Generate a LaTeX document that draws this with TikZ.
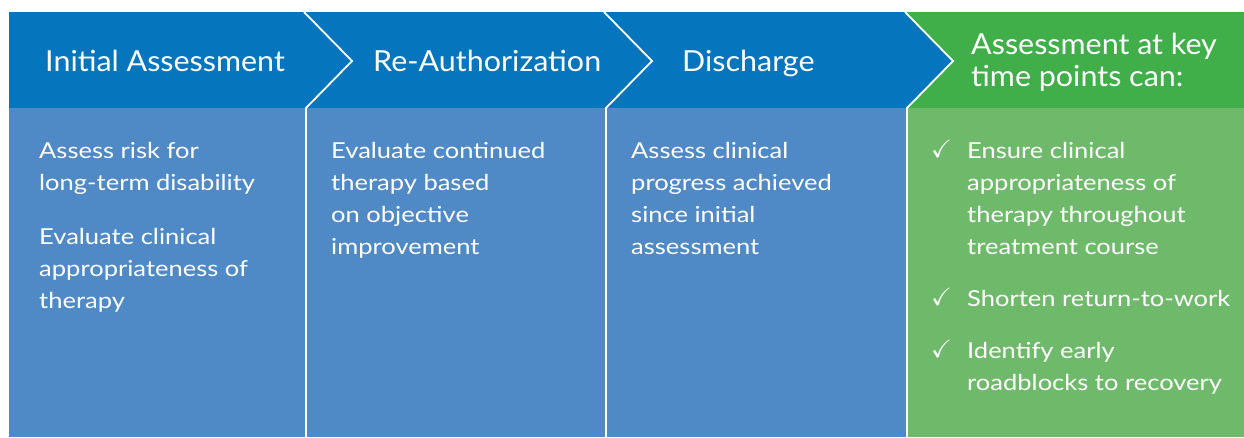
\documentclass[tikz,border=0pt]{standalone}
\usepackage{amssymb}
\usepackage{fontspec}
\setmainfont{Lato}
\newfontfamily\bodyfont[FakeStretch=1.16]{Lato}
\newfontfamily\headfont[FakeStretch=1.05]{Lato}
\definecolor{hblue}{HTML}{0575BE}
\definecolor{bblue}{HTML}{4F89C6}
\definecolor{hgreen}{HTML}{40AF4A}
\definecolor{bgreen}{HTML}{6EBA6A}
\begin{document}
\begin{tikzpicture}[x=1pt,y=-1pt,
  sep/.style={draw=white,line width=1.8pt},
  headtxt/.style={anchor=base west,inner sep=0pt,text=white,font=\headfont\fontsize{29}{32}\selectfont},
  bodytxt/.style={anchor=base west,inner sep=0pt,text=white,font=\bodyfont\fontsize{22}{32}\selectfont},
  checktxt/.style={anchor=base west,inner sep=0pt,text=white,font=\fontsize{25}{32}\selectfont}]
\useasboundingbox (0,0) rectangle (1244,437);
% panels
\fill[hblue] (9,12) -- (905,12) -- (953,61) -- (907,108) -- (9,108) -- cycle;
\fill[hgreen] (905,12) -- (1244,12) -- (1244,108) -- (907,108) -- (953,61) -- cycle;
\fill[bblue] (9,108) rectangle (907,437);
\fill[bgreen] (907,108) rectangle (1244,437);
\foreach \a/\t/\b in {304/352/306, 604/652/606, 905/953/907}
  \draw[sep] (\a,12) -- (\t,61) -- (\b,108) -- (\b,437);
% headers
\node[headtxt] (h1) at (45,71) {Initial Assessment};
\node[headtxt] (h2) at (373,71) {Re-Authorization};
\node[headtxt] (h3) at (682,71) {Discharge};
\node[headtxt] (h4) at (971,54) {\begin{tabular}[t]{@{}l@{}}Assessment at key\\time points can:\end{tabular}};
% bodies
\node[bodytxt] (b1) at (39,158) {\begin{tabular}[t]{@{}l@{}}Assess risk for\\long-term disability\\[22pt]Evaluate clinical\\appropriateness of\\therapy\end{tabular}};
\node[bodytxt] (b2) at (331,158) {\begin{tabular}[t]{@{}l@{}}Evaluate continued\\therapy based\\on objective\\improvement\end{tabular}};
\node[bodytxt] (b3) at (631,158) {\begin{tabular}[t]{@{}l@{}}Assess clinical\\progress achieved\\since initial\\assessment\end{tabular}};
\node[checktxt] (k1) at (931,157) {$\checkmark$};
\node[checktxt] (k2) at (931,305) {$\checkmark$};
\node[checktxt] (k3) at (931,357) {$\checkmark$};
\node[bodytxt] (g1) at (967,158) {\begin{tabular}[t]{@{}l@{}}Ensure clinical\\appropriateness of\\therapy throughout\\treatment course\end{tabular}};
\node[bodytxt] (g2) at (967,306) {Shorten return-to-work};
\node[bodytxt] (g3) at (967,358) {\begin{tabular}[t]{@{}l@{}}Identify early\\roadblocks to recovery\end{tabular}};
\end{tikzpicture}
\end{document}
